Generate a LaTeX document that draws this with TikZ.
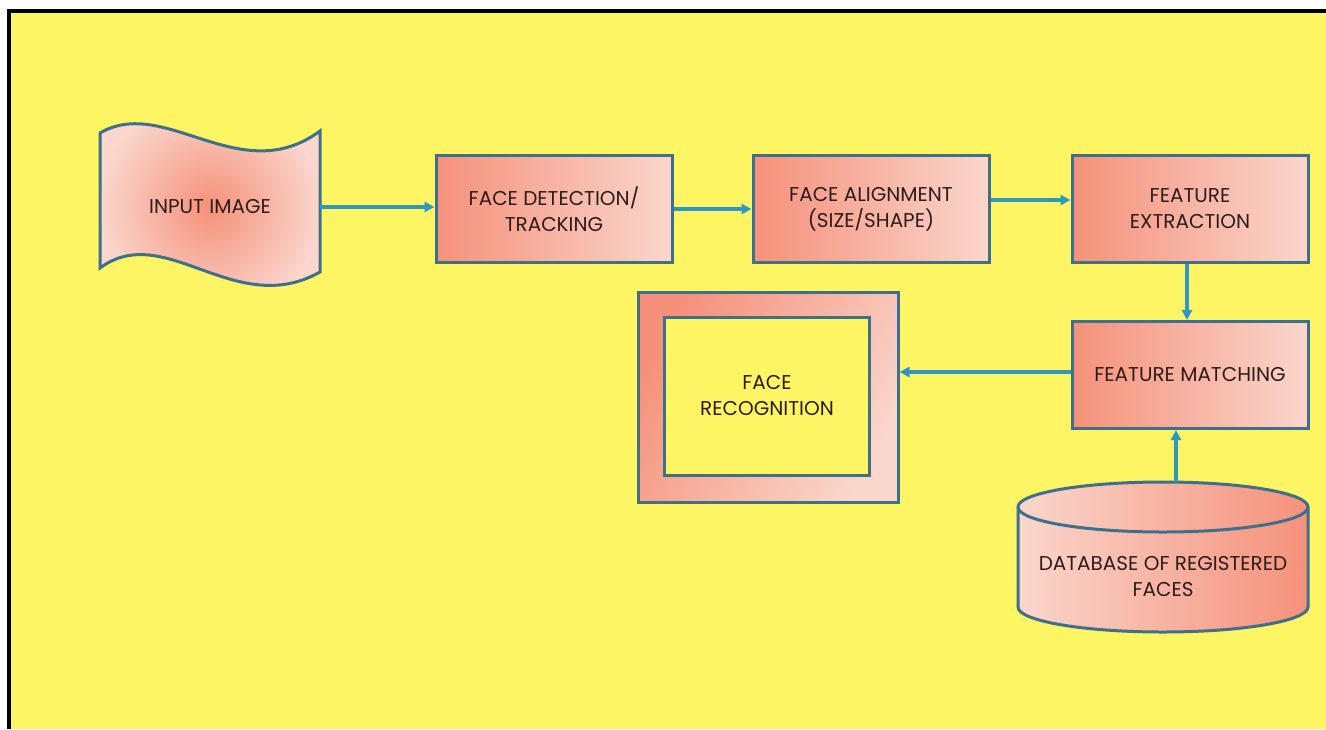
\documentclass[tikz,border=0pt]{standalone}
\usepackage{fontspec}
\setmainfont{Poppins}
\usetikzlibrary{arrows.meta}
\definecolor{bgyellow}{RGB}{253,245,100}
\definecolor{salmon}{RGB}{245,145,122}
\definecolor{lightpink}{RGB}{250,214,204}
\definecolor{boxedge}{RGB}{62,112,140}
\definecolor{arrowblue}{RGB}{46,152,196}
\definecolor{txt}{RGB}{45,28,28}
\tikzset{
  lbl/.style={font=\fontsize{20}{26}\selectfont, text=txt, align=center},
  procbox/.style={lbl, draw=boxedge, line width=3pt, left color=salmon, right color=lightpink,
    minimum width=236pt, minimum height=107pt, inner sep=0pt},
  flow/.style={draw=arrowblue, line width=3.2pt, -{Triangle[length=10pt,width=10pt]}},
}
\begin{document}
\begin{tikzpicture}[x=1pt,y=-1pt]
\useasboundingbox (0,0) rectangle (1326,729);
\fill[white] (0,0) rectangle (1326,729);
\fill[bgyellow] (11,13) rectangle (1326,729);
\fill[black] (7,9) rectangle (1326,13);
\fill[black] (7,9) rectangle (11,729);

% input image (tape shape)
\shade[inner color=salmon, outer color=lightpink, draw=boxedge, line width=3pt]
  (100,133) .. controls (165,95) and (240,190) .. (320,131)
  -- (320,272) .. controls (235,320) and (165,220) .. (100,268) -- cycle;
\node[lbl, minimum width=220pt, minimum height=130pt, inner sep=0pt] (input) at (210,207) {INPUT IMAGE};

\node[procbox] (det) at (554,209) {FACE DETECTION/\\TRACKING};
\node[procbox] (align) at (871,209) {FACE ALIGNMENT\\(SIZE/SHAPE)};
\node[procbox] (ext) at (1190,209) {FEATURE\\EXTRACTION};
\node[procbox] (match) at (1190,375) {FEATURE MATCHING};

% face recognition
\node[draw=boxedge, line width=3pt, left color=salmon, right color=lightpink, shading angle=60,
  minimum width=260pt, minimum height=210pt, inner sep=0pt] (recog) at (768,397) {};
\node[lbl, draw=boxedge, line width=3pt, fill=bgyellow,
  minimum width=205pt, minimum height=158pt, inner sep=0pt] (recin) at (767,396) {FACE\\RECOGNITION};

% database cylinder
\shade[shading angle=135, left color=lightpink, right color=salmon, draw=boxedge, line width=3pt]
  (1018,507) -- (1018,607) arc[start angle=180, end angle=0, x radius=145, y radius=25]
  -- (1308,507) arc[start angle=0, end angle=-180, x radius=145, y radius=25] -- cycle;
\draw[boxedge, line width=3pt] (1018,507) arc[start angle=180, end angle=0, x radius=145, y radius=25];
\node[lbl, minimum width=290pt, minimum height=150pt, inner sep=0pt] (db) at (1163,577) {DATABASE OF REGISTERED\\FACES};
\coordinate (dbtop) at (1176,482);

% connectors
\draw[flow] (input.east) -- (input.east -| det.west);
\draw[flow] (det.east) -- (align.west);
\draw[flow] ([yshift=9pt]align.east) -- ([yshift=9pt]ext.west);
\draw[flow] ([xshift=-3pt]ext.south) -- ([xshift=-3pt]match.north);
\draw[flow] ([yshift=3pt]match.west) -- ([yshift=3pt]match.west -| recog.east);
\draw[flow] (dbtop) -- (dbtop |- match.south);
\end{tikzpicture}
\end{document}
